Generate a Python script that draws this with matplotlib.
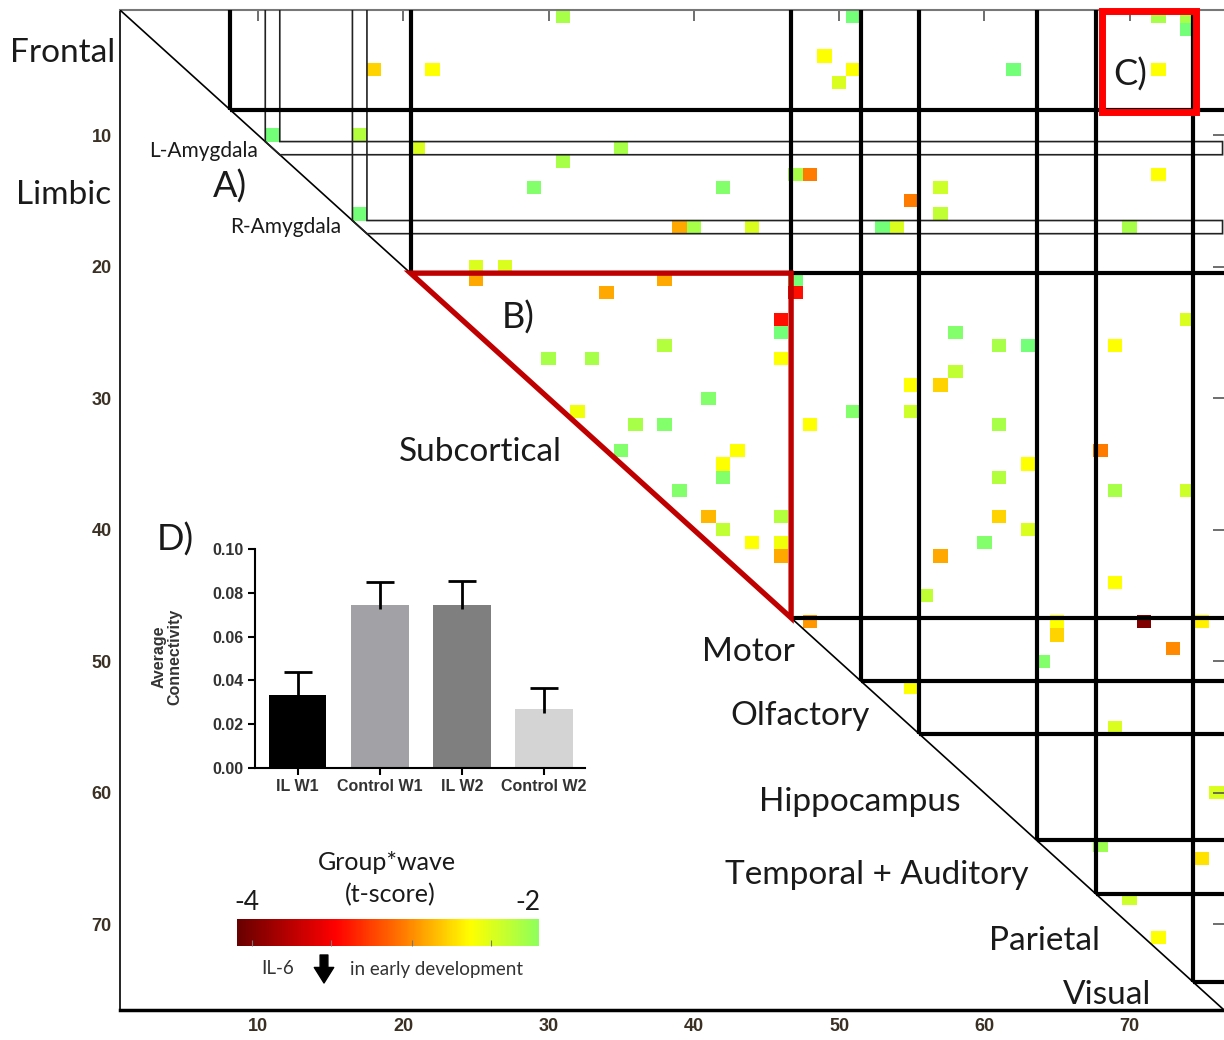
import numpy as np
import matplotlib
matplotlib.use("Agg")
import matplotlib.pyplot as plt
from matplotlib.colors import LinearSegmentedColormap, Normalize
from matplotlib.patches import Polygon, Rectangle

# ---- data -------------------------------------------------------------
N_NODES = 76
# significant edges: column (node j), row (node i), t-score
edge_col = [31, 51, 72, 74, 74, 18, 22, 49, 51, 50, 62, 72,
            11, 17, 21, 35, 31, 29, 42, 47, 48, 55, 57, 57, 72, 17,
            39, 40, 44, 53, 54, 70,
            25, 27, 25, 38, 34, 47, 47, 46, 46, 46, 38, 30, 33, 32, 41,
            36, 38, 35, 43, 42, 42, 39, 41, 42, 44, 46, 46, 46,
            74, 58, 61, 63, 69, 58, 55, 57, 51, 55, 48, 61, 68, 63, 61,
            69, 74, 61, 63, 60, 57, 69, 56,
            48, 65, 65, 71, 75, 73, 64, 55, 69, 76, 68, 75, 70, 72]
edge_row = [1, 1, 1, 1, 2, 5, 5, 4, 5, 6, 5, 5,
            10, 10, 11, 11, 12, 14, 14, 13, 13, 15, 14, 16, 13, 16,
            17, 17, 17, 17, 17, 17,
            20, 20, 21, 21, 22, 21, 22, 24, 25, 27, 26, 27, 27, 31, 30,
            32, 32, 34, 34, 35, 36, 37, 39, 40, 41, 39, 41, 42,
            24, 25, 26, 26, 26, 28, 29, 29, 31, 31, 32, 32, 34, 35, 36,
            37, 37, 39, 40, 41, 42, 44, 45,
            47, 47, 48, 47, 47, 49, 50, 52, 55, 60, 64, 65, 68, 71]
edge_t = [-2.1, -1.9, -2.1, -2.1, -1.9, -2.6, -2.45, -2.45, -2.45, -2.3, -1.9, -2.45,
          -1.9, -2.15, -2.3, -2.1, -2.1, -1.95, -1.95, -2.1, -2.9, -2.9, -2.25, -2.2, -2.45, -1.9,
          -2.75, -2.1, -2.3, -1.9, -2.3, -2.1,
          -2.3, -2.3, -2.75, -2.75, -2.75, -1.9, -3.3, -3.3, -1.9, -2.45, -2.15, -2.1, -2.1, -2.4, -1.95,
          -2.1, -1.95, -1.95, -2.45, -2.45, -1.95, -1.95, -2.7, -2.2, -2.45, -2.15, -2.4, -2.75,
          -2.3, -1.95, -2.1, -1.9, -2.45, -2.2, -2.45, -2.6, -1.95, -2.25, -2.45, -2.1, -2.9, -2.45, -2.15,
          -2.1, -2.25, -2.6, -2.3, -1.95, -2.75, -2.45, -2.2,
          -2.8, -2.45, -2.6, -3.9, -2.5, -2.85, -1.95, -2.45, -2.3, -2.3, -2.05, -2.55, -2.25, -2.45]

module_bounds = [8.1, 20.5, 46.7, 51.5, 55.5, 63.6, 67.7, 74.4]
module_names = ["Frontal", "Limbic", "Subcortical", "Motor", "Olfactory",
                "Hippocampus", "Temporal + Auditory", "Parietal", "Visual"]
amygdala_nodes = [11, 17]
amygdala_names = ["L-Amygdala", "R-Amygdala"]

bar_groups = ["IL W1", "Control W1", "IL W2", "Control W2"]
bar_means = [0.0333, 0.0744, 0.0744, 0.0269]
bar_sem = [0.0105, 0.0105, 0.0110, 0.0096]
bar_colors = ["#000000", "#a1a1a6", "#7f7f7f", "#d4d4d4"]

# ---- colours ------------------------------------------------------------
T_MIN, T_MAX = -4.0, -1.8
cmap_nodes = [(-4.0, "#6a0000"), (-3.35, "#ff0000"), (-2.9, "#ff7a00"),
              (-2.75, "#ffa800"), (-2.45, "#ffff00"), (-2.05, "#9cff50"),
              (-1.8, "#5cff90")]
cmap = LinearSegmentedColormap.from_list(
    "tscore", [((t - T_MIN) / (T_MAX - T_MIN), c) for t, c in cmap_nodes])
norm = Normalize(T_MIN, T_MAX)

W, H = 1224, 1040
fig = plt.figure(figsize=(W / 100, H / 100), dpi=100)


def fpos(x, y):
    return x / W, 1 - y / H


label_font = "Lato"

# ---- main matrix ------------------------------------------------------
ax = fig.add_axes([120 / W, 1 - 1010 / H, 1104 / W, 1000 / H])
mat = np.full((N_NODES, N_NODES), np.nan)
for c, r, t in zip(edge_col, edge_row, edge_t):
    mat[r - 1, c - 1] = t
edges = np.arange(0.5, N_NODES + 1.5)
ax.pcolormesh(edges, edges, np.ma.masked_invalid(mat), cmap=cmap, norm=norm, zorder=1)
ax.set_xlim(0.5, N_NODES + 0.5)
ax.set_ylim(N_NODES + 0.5, 0.5)

lo, hi = 0.5, N_NODES + 0.5
ax.plot([lo, hi], [lo, hi], color="black", lw=1.2, zorder=3)
for b in module_bounds:
    ax.plot([b, b], [lo, b], color="black", lw=3, zorder=4, solid_capstyle="butt")
    ax.plot([b, hi], [b, b], color="black", lw=3, zorder=4, solid_capstyle="butt")

for k in amygdala_nodes:
    pts = [(k - 0.5, lo), (k - 0.5, k - 0.5), (k + 0.5, k + 0.5), (hi - 0.1, k + 0.5),
           (hi - 0.1, k - 0.5), (k + 0.5, k - 0.5), (k + 0.5, lo)]
    ax.add_patch(Polygon(pts, closed=False, fill=False, ec="#222222", lw=1.2, zorder=3))

# B) subcortical triangle, C) frontal-parietal box
sb = (module_bounds[1], module_bounds[2])
ax.add_patch(Polygon([(sb[0], sb[0]), (sb[1], sb[0]), (sb[1], sb[1])], closed=True,
                     fill=False, ec="#c00000", lw=3.8, zorder=5, joinstyle="miter"))
ax.add_patch(Rectangle((68.1, 0.58), 74.56 - 68.1, 8.29 - 0.58, fill=False,
                       ec="#ff0000", lw=5, zorder=6, clip_on=False, joinstyle="miter"))

ax.set_xticks(range(10, 71, 10))
ax.set_yticks(range(10, 71, 10))
ax.tick_params(axis="both", length=0, labelsize=13, labelcolor="#3a3024", pad=6)
for lab in ax.get_xticklabels() + ax.get_yticklabels():
    lab.set_fontweight("bold")
    lab.set_family("Liberation Sans")
ax.tick_params(top=True, right=True, direction="in", length=8, color="#555555",
               labeltop=False, labelright=False, width=1.2)
ax.tick_params(bottom=False, left=False)
ax.spines["right"].set_visible(False)
ax.spines["top"].set_color("#777777")
ax.spines["top"].set_linewidth(1.5)
ax.spines["left"].set_linewidth(1.2)
ax.spines["bottom"].set_linewidth(2.5)

# module labels
module_xy = [(63, 53), (64, 195), (480, 452), (748, 652), (800, 716),
             (860, 802), (877, 875), (1045, 941), (1107, 995)]
for name, (x, y) in zip(module_names, module_xy):
    fig.text(*fpos(x, y), name, ha="center", va="center", fontsize=24,
             family=label_font, color="#1a1a1a")
for name, (x, y) in zip(amygdala_names, [(204, 151), (286, 227)]):
    fig.text(*fpos(x, y), name, ha="center", va="center", fontsize=15,
             family=label_font, color="#1a1a1a")
for name, (x, y) in zip(["A)", "B)", "C)", "D)"],
                        [(230, 187), (518, 318), (1130, 75), (175, 540)]):
    fig.text(*fpos(x, y), name, ha="center", va="center", fontsize=26,
             family=label_font, color="#1a1a1a")

# ---- D) inset bar chart -------------------------------------------------
bx = fig.add_axes([255 / W, 1 - 768 / H, 330 / W, 219 / H])
pos = np.arange(len(bar_groups))
bx.bar(pos, bar_means, width=0.7, color=bar_colors, zorder=2)
tops = np.array(bar_means) + np.array(bar_sem)
bx.vlines(pos, np.array(bar_means) - 0.002, tops, color="black", lw=2, zorder=3)
bx.hlines(tops, pos - 0.17, pos + 0.17, color="black", lw=2, zorder=3)
bx.set_xlim(-0.52, 3.5)
bx.set_ylim(0, 0.10)
bx.set_yticks(np.arange(0, 0.101, 0.02))
bx.set_yticklabels([f"{v:.2f}" for v in np.arange(0, 0.101, 0.02)])
bx.set_xticks(pos)
bx.set_xticklabels(bar_groups)
bx.tick_params(labelsize=11.5, labelcolor="#333333", length=5, width=1.5, pad=3)
for lab in bx.get_xticklabels() + bx.get_yticklabels():
    lab.set_fontweight("bold")
    lab.set_family("Liberation Sans")
for s in ["top", "right"]:
    bx.spines[s].set_visible(False)
for s in ["left", "bottom"]:
    bx.spines[s].set_linewidth(1.5)
bx.patch.set_alpha(0)
fig.text(*fpos(167, 657), "Average\nConnectivity", rotation=90, ha="center", va="center",
         fontsize=11.5, fontweight="bold", family="Liberation Sans", color="#333333",
         linespacing=1.0)

# ---- colour legend ----------------------------------------------------
cx = fig.add_axes([237 / W, 1 - 946 / H, 302 / W, 27 / H])
grad = np.linspace(-4, -2, 256)[None, :]
cx.imshow(grad, aspect="auto", cmap=cmap, norm=norm, extent=(-4, -2, 0, 1))
cx.set_xticks([-3.9, -3.38, -2.84, -2.32])
cx.set_yticks([])
cx.tick_params(axis="x", direction="in", length=4, color="#777777", labelbottom=False)
for s in cx.spines.values():
    s.set_visible(False)

fig.text(*fpos(387, 862), "Group*wave", ha="center", va="center", fontsize=18,
         family=label_font, color="#1a1a1a")
fig.text(*fpos(390, 895), "(t-score)", ha="center", va="center", fontsize=18,
         family=label_font, color="#1a1a1a")
fig.text(*fpos(247, 903), "-4", ha="center", va="center", fontsize=19,
         family=label_font, color="#1a1a1a")
fig.text(*fpos(528, 903), "-2", ha="center", va="center", fontsize=19,
         family=label_font, color="#1a1a1a")
fig.text(*fpos(278, 969), "IL-6", ha="center", va="center", fontsize=13.5,
         family=label_font, color="#333333")
fig.text(*fpos(436, 969), "in early development", ha="center", va="center", fontsize=13.5,
         family=label_font, color="#333333")
ax.annotate("", xy=(324, H - 983), xytext=(324, H - 955), xycoords="figure pixels",
            textcoords="figure pixels",
            arrowprops=dict(arrowstyle="simple,head_width=1.0,head_length=0.8,tail_width=0.4",
                            color="black", mutation_scale=14, shrinkA=0, shrinkB=0))

fig.savefig("out.png", dpi=100)
